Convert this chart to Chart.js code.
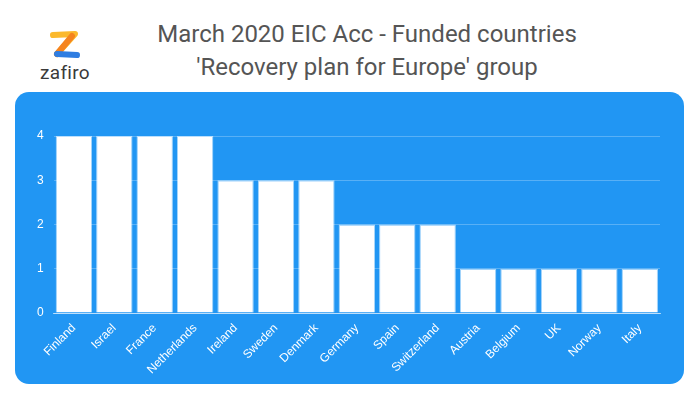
<!DOCTYPE html>
<html>
<head>
<meta charset="utf-8">
<script src="https://cdn.jsdelivr.net/npm/chart.js@4"></script>
<style>
  body { margin:0; width:700px; height:400px; background:#fff; font-family:Roboto, sans-serif; position:relative; overflow:hidden; }
  #title { position:absolute; left:90px; width:554px; top:18px; text-align:center; color:#555; font-size:24px; line-height:33px; }
  #logo { position:absolute; left:39px; top:30px; width:52px; }
  #logo .name { font-size:19px; color:#3a3a3a; text-align:center; margin-top:-3px; letter-spacing:0.3px; }
  #panel { position:absolute; left:15px; top:92px; width:669px; height:292px; background:#2196f3; border-radius:14px; }
</style>
</head>
<body>
<div id="logo">
  <svg width="52" height="30" viewBox="0 0 52 30">
    <path d="M14 5 L36 4 L18 24" stroke="#fbb92d" stroke-width="6" fill="none" stroke-linecap="round" stroke-linejoin="round"/>
    <path d="M33 6 L18 24" stroke="#f5841f" stroke-width="6" fill="none" stroke-linecap="round"/>
    <path d="M18 24 L38 25" stroke="#2f7de1" stroke-width="6" fill="none" stroke-linecap="round"/>
  </svg>
  <div class="name">zafiro</div>
</div>
<div id="title">March 2020 EIC Acc - Funded countries<br>'Recovery plan for Europe' group</div>
<div id="panel"><canvas id="chart" width="669" height="292"></canvas></div>
<script>
const countries = ['Finland','Israel','France','Netherlands','Ireland','Sweden','Denmark','Germany','Spain','Switzerland','Austria','Belgium','UK','Norway','Italy'];
const funded = [4,4,4,4,3,3,3,2,2,2,1,1,1,1,1];
const yTicks = [0,1,2,3,4];

new Chart(document.getElementById('chart').getContext('2d'), {
    type: 'bar',
    data: {
        labels: countries,
        datasets: [{
            data: funded,
            backgroundColor: '#ffffff',
            borderColor: 'rgba(255,255,255,0.6)',
            borderWidth: 1,
            barPercentage: 0.9,
            categoryPercentage: 1
        }]
    },
    options: {
        responsive: false,
        animation: false,
        layout: { padding: { top: 44, right: 24, bottom: 7, left: 12 } },
        plugins: { legend: { display: false }, tooltip: { enabled: false } },
        scales: {
            y: {
                min: 0, max: 4,
                afterBuildTicks: axis => { axis.ticks = yTicks.map(v => ({ value: v })); },
                grid: { color: 'rgba(255,255,255,0.25)', drawTicks: false },
                border: { display: false },
                ticks: { color: '#fff', font: { size: 12, family: 'Liberation Sans' }, padding: 10 }
            },
            x: {
                grid: { display: false },
                border: { color: 'rgba(255,255,255,0.6)' },
                ticks: { color: '#fff', font: { size: 12, family: 'Liberation Sans' }, minRotation: 45, maxRotation: 45, padding: 0 }
            }
        }
    }
});
</script>
</body>
</html>
